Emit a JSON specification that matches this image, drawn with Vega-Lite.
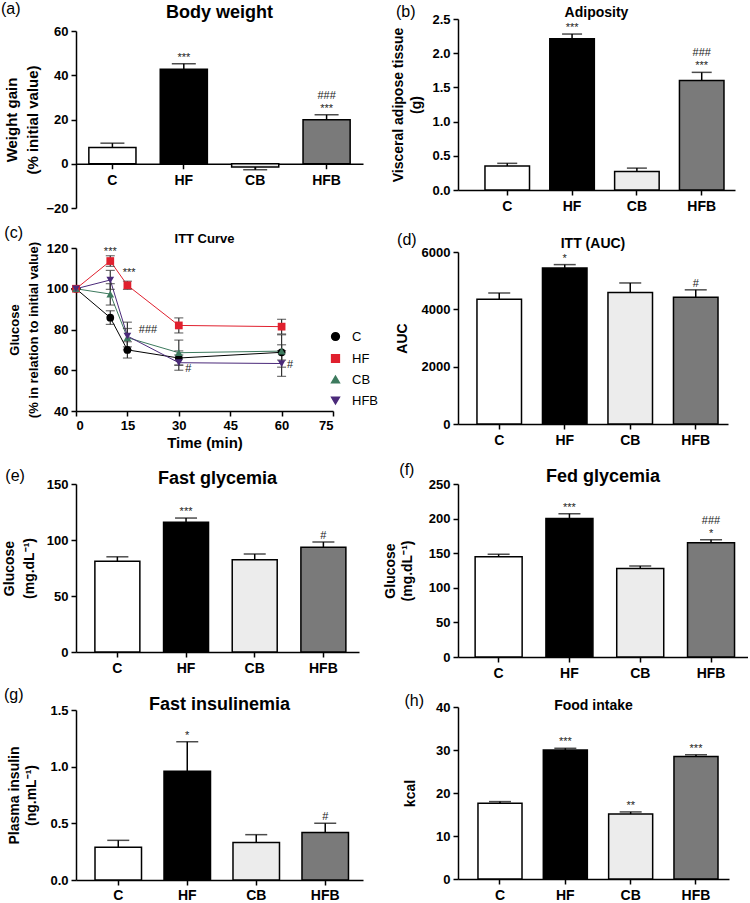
{
  "$schema": "https://vega.github.io/schema/vega-lite/v6.json",
  "padding": {"left": 0, "top": 1, "right": 0, "bottom": 0},
  "config": {
    "font": "Liberation Sans",
    "view": {"stroke": null},
    "axis": {"domainColor": "black", "domainWidth": 1.5, "tickColor": "black", "tickWidth": 1.5, "tickSize": 5, "labelFontWeight": "bold", "labelFontSize": 13, "labelColor": "black", "titleFontWeight": "bold", "titleFontSize": 14, "titleColor": "black", "grid": false, "labelPadding": 3, "titlePadding": 6},
    "axisY": {"tickCount": 20},
    "title": {"fontWeight": "bold", "color": "black"}
  },
  "spacing": 5,
  "resolve": {"scale": {"color": "independent", "shape": "independent"}},
  "hconcat": [
    {
      "spacing": 10,
      "resolve": {"scale": {"color": "independent", "shape": "independent"}},
      "vconcat": [
        {
          "title": {"text": "(a)", "anchor": "start", "frame": "bounds", "fontSize": 16, "fontWeight": "normal", "offset": -13, "dx": -4},
          "hconcat": [{
            "title": {"text": "Body weight", "fontSize": 18, "offset": -3},
            "width": 287, "height": 189,
            "data": {"values": [
              {"g": "C", "v": 7.4, "e": 9.3, "s": "", "s2": ""},
              {"g": "HF", "v": 42.7, "e": 45.2, "s": "***", "s2": ""},
              {"g": "CB", "v": -1.5, "e": -2.7, "s": "", "s2": ""},
              {"g": "HFB", "v": 19.9, "e": 22.1, "s": "***", "s2": "###"}
            ]},
            "encoding": {"x": {"field": "g", "type": "nominal", "sort": ["C", "HF", "CB", "HFB"], "scale": {"paddingInner": 0.34, "paddingOuter": 0.18}, "axis": {"title": null, "labelAngle": 0, "labelFontSize": 14, "labelPadding": 5, "offset": -44.25}}},
            "layer": [
              {"mark": {"type": "bar", "stroke": "black", "strokeWidth": 1.5},
               "encoding": {"y": {"field": "v", "type": "quantitative", "scale": {"domain": [-20, 60], "range": [189, 12], "nice": false}, "axis": {"title": ["Weight gain", "(% initial value)"], "titleFontSize": 15, "titleLineHeight": 21, "titlePadding": 5, "values": [-20, 0, 20, 40, 60]}},
                 "fill": {"field": "g", "type": "nominal", "scale": {"domain": ["C", "HF", "CB", "HFB"], "range": ["#ffffff", "#000000", "#ececec", "#7a7a7a"]}, "legend": null}}},
              {"mark": {"type": "rule", "strokeWidth": 1.5, "color": "black"}, "encoding": {"y": {"field": "v", "type": "quantitative"}, "y2": {"field": "e"}}},
              {"mark": {"type": "tick", "orient": "horizontal", "size": 24, "thickness": 1.5, "color": "black"}, "encoding": {"y": {"field": "e", "type": "quantitative"}}},
              {"mark": {"type": "text", "baseline": "bottom", "dy": -1, "fontSize": 11, "color": "#222"}, "encoding": {"y": {"field": "e", "type": "quantitative"}, "text": {"field": "s"}}},
              {"mark": {"type": "text", "baseline": "bottom", "dy": -14, "fontSize": 11, "color": "#222"}, "encoding": {"y": {"field": "e", "type": "quantitative"}, "text": {"field": "s2"}}}
            ]
          }]
        },
        {
          "spacing": 18,
          "resolve": {"scale": {"color": "independent", "shape": "independent"}},
          "vconcat": [
            {
              "title": {"text": "(c)", "anchor": "start", "frame": "bounds", "fontSize": 16, "fontWeight": "normal", "offset": -8, "dx": -4},
              "resolve": {"scale": {"color": "independent", "shape": "independent"}},
              "hconcat": [{
                "title": {"text": "ITT Curve", "fontSize": 13, "offset": -5},
                "width": 257, "height": 163,
                "data": {"values": [
                  {"t": 0, "g": "C", "v": 100, "lo": 100, "hi": 100},
                  {"t": 10, "g": "C", "v": 85.8, "lo": 82.5, "hi": 89.2},
                  {"t": 15, "g": "C", "v": 70, "lo": 66, "hi": 74},
                  {"t": 30, "g": "C", "v": 66, "lo": 62.5, "hi": 69.5},
                  {"t": 60, "g": "C", "v": 68.8, "lo": 65, "hi": 72.5},
                  {"t": 0, "g": "HF", "v": 100, "lo": 100, "hi": 100},
                  {"t": 10, "g": "HF", "v": 113.6, "lo": 111, "hi": 116.2},
                  {"t": 15, "g": "HF", "v": 101.7, "lo": 99.7, "hi": 103.7},
                  {"t": 30, "g": "HF", "v": 82, "lo": 78.3, "hi": 85.7},
                  {"t": 60, "g": "HF", "v": 81.4, "lo": 77.8, "hi": 85},
                  {"t": 0, "g": "CB", "v": 100, "lo": 100, "hi": 100},
                  {"t": 10, "g": "CB", "v": 97.4, "lo": 92, "hi": 102.5},
                  {"t": 15, "g": "CB", "v": 76, "lo": 71.5, "hi": 80.5},
                  {"t": 30, "g": "CB", "v": 68.6, "lo": 62.5, "hi": 74.8},
                  {"t": 60, "g": "CB", "v": 69.4, "lo": 61.5, "hi": 77.4},
                  {"t": 0, "g": "HFB", "v": 100, "lo": 100, "hi": 100},
                  {"t": 10, "g": "HFB", "v": 104.3, "lo": 99.7, "hi": 109},
                  {"t": 15, "g": "HFB", "v": 76.8, "lo": 70, "hi": 83.6},
                  {"t": 30, "g": "HFB", "v": 63.7, "lo": 60, "hi": 67.5},
                  {"t": 60, "g": "HFB", "v": 63.3, "lo": 57, "hi": 69.6}
                ]},
                "encoding": {"x": {"field": "t", "type": "quantitative", "scale": {"domain": [0, 75], "nice": false}, "axis": {"title": "Time (min)", "values": [0, 15, 30, 45, 60, 75], "titleFontSize": 15, "titlePadding": 3}}},
                "layer": [
                  {"mark": {"type": "line", "strokeWidth": 1},
                   "encoding": {"y": {"field": "v", "type": "quantitative", "scale": {"domain": [40, 120], "nice": false}, "axis": {"title": ["Glucose", "(% in relation to initial value)"], "titleFontSize": 13, "titleLineHeight": 19, "titlePadding": 6, "values": [40, 60, 80, 100, 120]}},
                     "color": {"field": "g", "type": "nominal", "scale": {"domain": ["C", "HF", "CB", "HFB"], "range": ["#000000", "#e0202e", "#3d7a5e", "#4b2a7a"]}, "legend": {"orient": "none", "legendX": 253, "legendY": 82, "title": null, "labelFontSize": 13, "labelOffset": 10, "symbolSize": 60, "rowPadding": 7, "labelColor": "black"}}}},
                  {"mark": {"type": "rule", "strokeWidth": 1.2, "color": "#333"}, "encoding": {"y": {"field": "lo", "type": "quantitative"}, "y2": {"field": "hi"}}},
                  {"mark": {"type": "tick", "orient": "horizontal", "size": 9, "thickness": 1.2, "color": "#333"}, "encoding": {"y": {"field": "lo", "type": "quantitative"}}},
                  {"mark": {"type": "tick", "orient": "horizontal", "size": 9, "thickness": 1.2, "color": "#333"}, "encoding": {"y": {"field": "hi", "type": "quantitative"}}},
                  {"mark": {"type": "point", "filled": true, "opacity": 1, "size": 60},
                   "encoding": {"y": {"field": "v", "type": "quantitative"},
                     "color": {"field": "g", "type": "nominal", "scale": {"domain": ["C", "HF", "CB", "HFB"], "range": ["#000000", "#e0202e", "#3d7a5e", "#4b2a7a"]}, "legend": {"orient": "none", "legendX": 253, "legendY": 82, "title": null, "labelFontSize": 13, "labelOffset": 10, "symbolSize": 60, "rowPadding": 7, "labelColor": "black"}},
                     "shape": {"field": "g", "type": "nominal", "scale": {"domain": ["C", "HF", "CB", "HFB"], "range": ["circle", "square", "triangle-up", "triangle-down"]}, "legend": {"orient": "none", "legendX": 253, "legendY": 82, "title": null, "labelFontSize": 13, "labelOffset": 10, "symbolSize": 60, "rowPadding": 7, "labelColor": "black"}}}},
                  {"data": {"values": [
                    {"t": 10, "v": 118, "s": "***"},
                    {"t": 15.5, "v": 107.5, "s": "***"},
                    {"t": 21, "v": 79.6, "s": "###"},
                    {"t": 32.8, "v": 60.6, "s": "#"},
                    {"t": 62.5, "v": 62.4, "s": "#"}
                  ]},
                   "mark": {"type": "text", "baseline": "middle", "fontSize": 11, "color": "#222"},
                   "encoding": {"y": {"field": "v", "type": "quantitative"}, "text": {"field": "s"}}}
                ]
              }]
            },
            {
              "spacing": 12,
              "vconcat": [
                {
                  "title": {"text": "(e)", "anchor": "start", "frame": "bounds", "fontSize": 16, "fontWeight": "normal", "offset": -14, "dx": 3},
                  "hconcat": [{
                    "title": {"text": "Fast glycemia", "fontSize": 18, "offset": -10},
                    "width": 283, "height": 168,
                    "data": {"values": [
                      {"g": "C", "v": 81, "e": 85, "s": ""},
                      {"g": "HF", "v": 115.8, "e": 119.6, "s": "***"},
                      {"g": "CB", "v": 82.4, "e": 87.5, "s": ""},
                      {"g": "HFB", "v": 93.5, "e": 98.2, "s": "#"}
                    ]},
                    "encoding": {"x": {"field": "g", "type": "nominal", "sort": ["C", "HF", "CB", "HFB"], "scale": {"paddingInner": 0.345, "paddingOuter": 0.233, "align": 0.59}, "axis": {"title": null, "labelAngle": 0, "labelFontSize": 14, "labelPadding": 4}}},
                    "layer": [
                      {"mark": {"type": "bar", "stroke": "black", "strokeWidth": 1.5},
                       "encoding": {"y": {"field": "v", "type": "quantitative", "scale": {"domain": [0, 150], "nice": false}, "axis": {"title": ["Glucose", "(mg.dL⁻¹)"], "titleLineHeight": 20, "titlePadding": 10, "values": [0, 50, 100, 150]}},
                         "fill": {"field": "g", "type": "nominal", "scale": {"domain": ["C", "HF", "CB", "HFB"], "range": ["#ffffff", "#000000", "#ececec", "#7a7a7a"]}, "legend": null}}},
                      {"mark": {"type": "rule", "strokeWidth": 1.5, "color": "black"}, "encoding": {"y": {"field": "v", "type": "quantitative"}, "y2": {"field": "e"}}},
                      {"mark": {"type": "tick", "orient": "horizontal", "size": 22, "thickness": 1.5, "color": "black"}, "encoding": {"y": {"field": "e", "type": "quantitative"}}},
                      {"mark": {"type": "text", "baseline": "bottom", "dy": -1, "fontSize": 11, "color": "#222"}, "encoding": {"y": {"field": "e", "type": "quantitative"}, "text": {"field": "s"}}}
                    ]
                  }]
                },
                {
                  "title": {"text": "(g)", "anchor": "start", "frame": "bounds", "fontSize": 16, "fontWeight": "normal", "offset": -7, "dx": -4},
                  "hconcat": [{
                    "title": {"text": "Fast insulinemia", "fontSize": 18, "offset": -10},
                    "width": 287, "height": 170,
                    "data": {"values": [
                      {"g": "C", "v": 0.29, "e": 0.35, "s": ""},
                      {"g": "HF", "v": 0.96, "e": 1.22, "s": "*"},
                      {"g": "CB", "v": 0.33, "e": 0.4, "s": ""},
                      {"g": "HFB", "v": 0.42, "e": 0.5, "s": "#"}
                    ]},
                    "encoding": {"x": {"field": "g", "type": "nominal", "sort": ["C", "HF", "CB", "HFB"], "scale": {"paddingInner": 0.326, "paddingOuter": 0.243, "align": 0.567}, "axis": {"title": null, "labelAngle": 0, "labelFontSize": 14, "labelPadding": 3}}},
                    "layer": [
                      {"mark": {"type": "bar", "stroke": "black", "strokeWidth": 1.5},
                       "encoding": {"y": {"field": "v", "type": "quantitative", "scale": {"domain": [0, 1.5], "nice": false}, "axis": {"title": ["Plasma insulin", "(ng.mL⁻¹)"], "titleLineHeight": 17, "titlePadding": 11, "values": [0, 0.5, 1, 1.5], "format": ".1f"}},
                         "fill": {"field": "g", "type": "nominal", "scale": {"domain": ["C", "HF", "CB", "HFB"], "range": ["#ffffff", "#000000", "#ececec", "#7a7a7a"]}, "legend": null}}},
                      {"mark": {"type": "rule", "strokeWidth": 1.5, "color": "black"}, "encoding": {"y": {"field": "v", "type": "quantitative"}, "y2": {"field": "e"}}},
                      {"mark": {"type": "tick", "orient": "horizontal", "size": 22, "thickness": 1.5, "color": "black"}, "encoding": {"y": {"field": "e", "type": "quantitative"}}},
                      {"mark": {"type": "text", "baseline": "bottom", "dy": -1, "fontSize": 11, "color": "#222"}, "encoding": {"y": {"field": "e", "type": "quantitative"}, "text": {"field": "s"}}}
                    ]
                  }]
                }
              ]
            }
          ]
        }
      ]
    },
    {
      "spacing": 19,
      "vconcat": [
        {
          "title": {"text": "(b)", "anchor": "start", "frame": "bounds", "fontSize": 16, "fontWeight": "normal", "offset": -14, "dx": 4},
          "hconcat": [{
            "title": {"text": "Adiposity", "fontSize": 14, "offset": -11},
            "width": 277, "height": 171,
            "data": {"values": [
              {"g": "C", "v": 0.35, "e": 0.39, "s": "", "s2": ""},
              {"g": "HF", "v": 2.21, "e": 2.28, "s": "***", "s2": ""},
              {"g": "CB", "v": 0.27, "e": 0.32, "s": "", "s2": ""},
              {"g": "HFB", "v": 1.6, "e": 1.72, "s": "***", "s2": "###"}
            ]},
            "encoding": {"x": {"field": "g", "type": "nominal", "sort": ["C", "HF", "CB", "HFB"], "scale": {"paddingInner": 0.313, "paddingOuter": 0.293, "align": 0.71}, "axis": {"title": null, "labelAngle": 0, "labelFontSize": 14, "labelPadding": 4}}},
            "layer": [
              {"mark": {"type": "bar", "stroke": "black", "strokeWidth": 1.5},
               "encoding": {"y": {"field": "v", "type": "quantitative", "scale": {"domain": [0, 2.5], "nice": false}, "axis": {"title": ["Visceral adipose tissue", "(g)"], "titleLineHeight": 18, "titlePadding": 8, "values": [0, 0.5, 1, 1.5, 2, 2.5], "format": ".1f"}},
                 "fill": {"field": "g", "type": "nominal", "scale": {"domain": ["C", "HF", "CB", "HFB"], "range": ["#ffffff", "#000000", "#ececec", "#7a7a7a"]}, "legend": null}}},
              {"mark": {"type": "rule", "strokeWidth": 1.5, "color": "black"}, "encoding": {"y": {"field": "v", "type": "quantitative"}, "y2": {"field": "e"}}},
              {"mark": {"type": "tick", "orient": "horizontal", "size": 20, "thickness": 1.5, "color": "black"}, "encoding": {"y": {"field": "e", "type": "quantitative"}}},
              {"mark": {"type": "text", "baseline": "bottom", "dy": -1, "fontSize": 11, "color": "#222"}, "encoding": {"y": {"field": "e", "type": "quantitative"}, "text": {"field": "s"}}},
              {"mark": {"type": "text", "baseline": "bottom", "dy": -14, "fontSize": 11, "color": "#222"}, "encoding": {"y": {"field": "e", "type": "quantitative"}, "text": {"field": "s2"}}}
            ]
          }]
        },
        {
          "spacing": 15,
          "vconcat": [
            {
              "title": {"text": "(d)", "anchor": "start", "frame": "bounds", "fontSize": 16, "fontWeight": "normal", "offset": -11, "dx": 2},
              "hconcat": [{
                "title": {"text": "ITT (AUC)", "fontSize": 14, "offset": -5},
                "width": 270, "height": 172,
                "data": {"values": [
                  {"g": "C", "v": 4350, "e": 4570, "s": ""},
                  {"g": "HF", "v": 5440, "e": 5560, "s": "*"},
                  {"g": "CB", "v": 4590, "e": 4920, "s": ""},
                  {"g": "HFB", "v": 4420, "e": 4680, "s": "#"}
                ]},
                "encoding": {"x": {"field": "g", "type": "nominal", "sort": ["C", "HF", "CB", "HFB"], "scale": {"paddingInner": 0.32, "paddingOuter": 0.221, "align": 0.655}, "axis": {"title": null, "labelAngle": 0, "labelFontSize": 14, "labelPadding": 4}}},
                "layer": [
                  {"mark": {"type": "bar", "stroke": "black", "strokeWidth": 1.5},
                   "encoding": {"y": {"field": "v", "type": "quantitative", "scale": {"domain": [0, 6000], "nice": false}, "axis": {"title": "AUC", "titlePadding": 12, "values": [0, 2000, 4000, 6000], "format": "d"}},
                     "fill": {"field": "g", "type": "nominal", "scale": {"domain": ["C", "HF", "CB", "HFB"], "range": ["#ffffff", "#000000", "#ececec", "#7a7a7a"]}, "legend": null}}},
                  {"mark": {"type": "rule", "strokeWidth": 1.5, "color": "black"}, "encoding": {"y": {"field": "v", "type": "quantitative"}, "y2": {"field": "e"}}},
                  {"mark": {"type": "tick", "orient": "horizontal", "size": 22, "thickness": 1.5, "color": "black"}, "encoding": {"y": {"field": "e", "type": "quantitative"}}},
                  {"mark": {"type": "text", "baseline": "bottom", "dy": -1, "fontSize": 11, "color": "#222"}, "encoding": {"y": {"field": "e", "type": "quantitative"}, "text": {"field": "s"}}}
                ]
              }]
            },
            {
              "spacing": 13,
              "vconcat": [
                {
                  "title": {"text": "(f)", "anchor": "start", "frame": "bounds", "fontSize": 16, "fontWeight": "normal", "offset": -10, "dx": 16},
                  "hconcat": [{
                    "title": {"text": "Fed glycemia", "fontSize": 18, "offset": -8},
                    "width": 290, "height": 173,
                    "data": {"values": [
                      {"g": "C", "v": 145, "e": 148.5, "s": "", "s2": ""},
                      {"g": "HF", "v": 200, "e": 207, "s": "***", "s2": ""},
                      {"g": "CB", "v": 128, "e": 131.5, "s": "", "s2": ""},
                      {"g": "HFB", "v": 165, "e": 169.5, "s": "*", "s2": "###"}
                    ]},
                    "encoding": {"x": {"field": "g", "type": "nominal", "sort": ["C", "HF", "CB", "HFB"], "scale": {"paddingInner": 0.336, "paddingOuter": 0.216, "align": 0.56}, "axis": {"title": null, "labelAngle": 0, "labelFontSize": 14, "labelPadding": 4}}},
                    "layer": [
                      {"mark": {"type": "bar", "stroke": "black", "strokeWidth": 1.5},
                       "encoding": {"y": {"field": "v", "type": "quantitative", "scale": {"domain": [0, 250], "nice": false}, "axis": {"title": ["Glucose", "(mg.dL⁻¹)"], "titleLineHeight": 17, "titlePadding": 14, "values": [0, 50, 100, 150, 200, 250]}},
                         "fill": {"field": "g", "type": "nominal", "scale": {"domain": ["C", "HF", "CB", "HFB"], "range": ["#ffffff", "#000000", "#ececec", "#7a7a7a"]}, "legend": null}}},
                      {"mark": {"type": "rule", "strokeWidth": 1.5, "color": "black"}, "encoding": {"y": {"field": "v", "type": "quantitative"}, "y2": {"field": "e"}}},
                      {"mark": {"type": "tick", "orient": "horizontal", "size": 22, "thickness": 1.5, "color": "black"}, "encoding": {"y": {"field": "e", "type": "quantitative"}}},
                      {"mark": {"type": "text", "baseline": "bottom", "dy": -1, "fontSize": 11, "color": "#222"}, "encoding": {"y": {"field": "e", "type": "quantitative"}, "text": {"field": "s"}}},
                      {"mark": {"type": "text", "baseline": "bottom", "dy": -14, "fontSize": 11, "color": "#222"}, "encoding": {"y": {"field": "e", "type": "quantitative"}, "text": {"field": "s2"}}}
                    ]
                  }]
                },
                {
                  "title": {"text": "(h)", "anchor": "start", "frame": "bounds", "fontSize": 16, "fontWeight": "normal", "offset": -10, "dx": 1},
                  "hconcat": [{
                    "title": {"text": "Food intake", "fontSize": 14, "offset": -12},
                    "width": 271, "height": 172,
                    "data": {"values": [
                      {"g": "C", "v": 17.6, "e": 18.0, "s": ""},
                      {"g": "HF", "v": 30.0, "e": 30.4, "s": "***"},
                      {"g": "CB", "v": 15.1, "e": 15.6, "s": "**"},
                      {"g": "HFB", "v": 28.5, "e": 28.9, "s": "***"}
                    ]},
                    "encoding": {"x": {"field": "g", "type": "nominal", "sort": ["C", "HF", "CB", "HFB"], "scale": {"paddingInner": 0.326, "paddingOuter": 0.237, "align": 0.645}, "axis": {"title": null, "labelAngle": 0, "labelFontSize": 14, "labelPadding": 4}}},
                    "layer": [
                      {"mark": {"type": "bar", "stroke": "black", "strokeWidth": 1.5},
                       "encoding": {"y": {"field": "v", "type": "quantitative", "scale": {"domain": [0, 40], "nice": false}, "axis": {"title": "kcal", "titlePadding": 18, "values": [0, 10, 20, 30, 40]}},
                         "fill": {"field": "g", "type": "nominal", "scale": {"domain": ["C", "HF", "CB", "HFB"], "range": ["#ffffff", "#000000", "#ececec", "#7a7a7a"]}, "legend": null}}},
                      {"mark": {"type": "rule", "strokeWidth": 1.5, "color": "black"}, "encoding": {"y": {"field": "v", "type": "quantitative"}, "y2": {"field": "e"}}},
                      {"mark": {"type": "tick", "orient": "horizontal", "size": 22, "thickness": 1.5, "color": "black"}, "encoding": {"y": {"field": "e", "type": "quantitative"}}},
                      {"mark": {"type": "text", "baseline": "bottom", "dy": -1, "fontSize": 11, "color": "#222"}, "encoding": {"y": {"field": "e", "type": "quantitative"}, "text": {"field": "s"}}}
                    ]
                  }]
                }
              ]
            }
          ]
        }
      ]
    }
  ]
}
